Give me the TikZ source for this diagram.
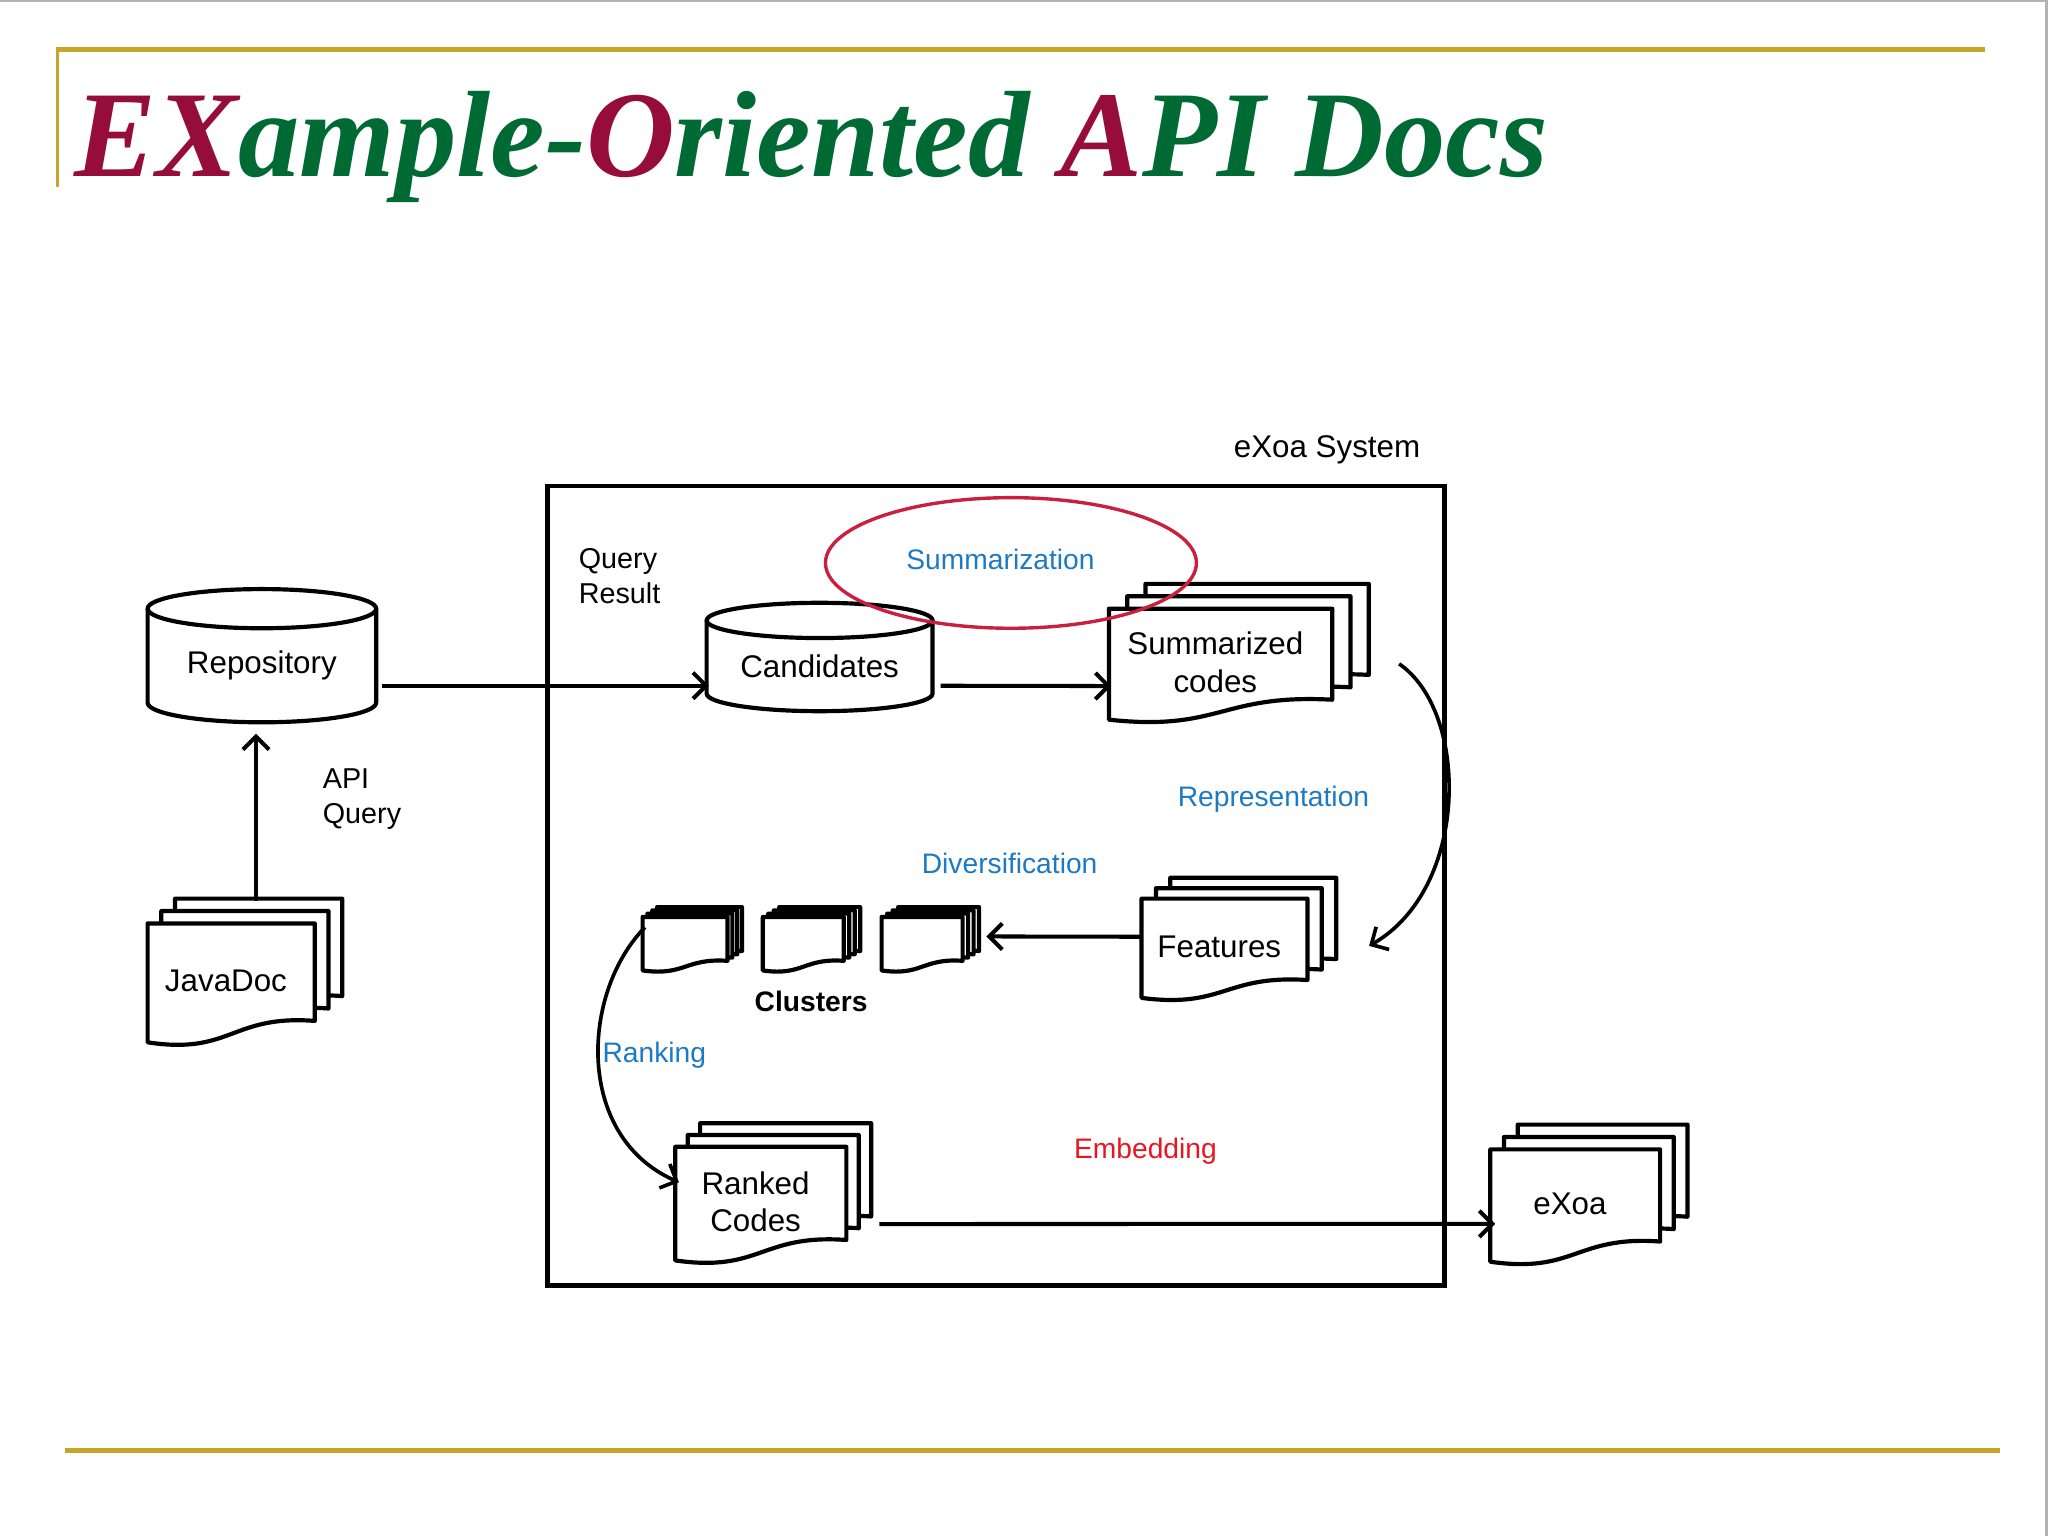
\documentclass[tikz,border=0pt]{standalone}
\usepackage{fontspec}
\setmainfont{Liberation Sans}
\newfontfamily\titlefont{Liberation Serif}
\usetikzlibrary{arrows.meta,calc,shapes.geometric}

\definecolor{titlered}{RGB}{150,12,58}
\definecolor{titlegreen}{RGB}{0,106,52}
\definecolor{rulegold}{RGB}{200,165,40}
\definecolor{stepblue}{RGB}{28,122,196}
\definecolor{embedred}{RGB}{232,22,32}
\definecolor{ringred}{RGB}{200,32,62}

\tikzset{
    title text/.style={font=\titlefont\bfseries\itshape\fontsize{94}{100}\selectfont, text=titlegreen, inner sep=0pt},
    gold rule/.style={draw=rulegold},
    shape line/.style={line width=3.2pt, line join=round},
    system box/.style={draw, line width=3.6pt, inner sep=0pt},
    box text/.style={font=\fontsize{24}{29}\selectfont, align=center, inner sep=0pt},
    note text/.style={font=\fontsize{22}{27}\selectfont, inner sep=0pt},
    step label/.style={font=\fontsize{21.6}{27}\selectfont, text=stepblue, inner sep=0pt},
    cluster text/.style={font=\bfseries\fontsize{21.6}{26}\selectfont, inner sep=0pt},
    ring/.style={ellipse, draw=ringred, line width=2.6pt, inner sep=0pt},
    flow/.style={line width=3.1pt, -{Straight Barb[length=10pt,width=20pt]}},
    bend flow/.style={line width=2.8pt, -{Straight Barb[length=10pt,width=20pt]}}
}

% name, centre x, top y, x radius, height, y radius, text
\newcommand{\dbstore}[7]{%
    \draw[shape line, fill=white] (#2-#4,#3) -- (#2-#4,#3+#5)
        arc[start angle=180, end angle=0, x radius=#4, y radius=#6] -- (#2+#4,#3);
    \draw[shape line, fill=white] (#2,#3) ellipse[x radius=#4, y radius=#6];
    \node[box text, minimum width=2*#4, minimum height=#5] (#1) at (#2,#3+#5/2+#6/2) {#7};
}

% name, left, top, width, height, dx, dy, back sheets, text
\newcommand{\docstack}[9]{%
    \foreach \k in {#8,...,0}
        \draw[shape line, fill=white, shift={(\k*#6,-\k*#7)}]
            (#2,#3) -- (#2+#4,#3) -- (#2+#4,#3+0.82*#5)
            .. controls (#2+0.5*#4,#3+0.766*#5) and (#2+0.5*#4,#3+1.108*#5) .. (#2,#3+#5) -- cycle;
    \node[box text, minimum width=#4, minimum height=0.9*#5] (#1) at (#2+#4/2-4,#3+0.45*#5+3) {#9};
}

\begin{document}
\begin{tikzpicture}[x=1pt,y=-1pt]
    \useasboundingbox (0,0) rectangle (1568,1176);
    \draw[gray!60, line width=1.5pt] (0,0.75) -- (1568,0.75);
    \draw[gray!60, line width=2pt] (1567,0) -- (1567,1176);

    \draw[gold rule, line width=4pt] (43,38) -- (1520,38);
    \draw[gold rule, line width=2pt] (44,38) -- (44,143);
    \draw[gold rule, line width=4.5pt] (50,1110.5) -- (1531,1110.5);
    \node[title text, anchor=base west] (title) at (57,135)
        {{\color{titlered}EX}ample-{\color{titlered}O}riented {\color{titlered}A}PI Docs};

    \node[system box, minimum width=687, minimum height=612] (system) at (762.5,678) {};
    \node[box text] (sysname) at (1016,344) {eXoa System};

    \dbstore{repo}{200.5}{466}{87.5}{72}{15}{Repository}
    \dbstore{cand}{627.5}{475}{86.5}{56}{13.5}{Candidates}
    \docstack{javadoc}{113}{707}{128}{91}{10.5}{9.5}{2}{JavaDoc}
    \docstack{summ}{849}{466}{171}{85}{14}{9.5}{2}{Summarized\\codes}
    \docstack{feat}{874}{688}{127}{76}{11}{8}{2}{Features}
    \docstack{clusA}{492}{702}{65}{41}{3.7}{2.5}{3}{}
    \docstack{clusB}{584}{702}{62}{41}{4.2}{2.5}{3}{}
    \docstack{clusC}{675}{702}{62}{41}{4.2}{2.5}{3}{}
    \docstack{ranked}{517}{878}{131}{87}{9.5}{9}{2}{Ranked\\Codes}
    \docstack{exoa}{1141}{880}{130}{86}{10.5}{9.5}{2}{eXoa}

    \draw[flow] ($(javadoc.north)+(23,-20)$) -- ($(repo.south)+(-4.5,16)$);
    \draw[flow] ($(repo.east)+(4,15.5)$) -- ($(cand.west)+(2,15.25)$);
    \draw[flow] ($(cand.east)+(6,15.25)$) -- ($(summ.west)+(6,18)$);
    \draw[bend flow] ($(summ.east)+(55,1)$) .. controls +(54,37) and +(77,-44) .. ($(feat.east)+(51,-1)$);
    \draw[flow] ($(feat.west)+(3,-8)$) -- ($(clusC.east)+(22,-6.5)$);
    \draw[bend flow] ($(clusA.west)+(6,-13.5)$) .. controls +(-49,50) and +(-80,-35) .. ($(ranked.west)+(7,-15)$);
    \draw[flow] ($(ranked.east)+(29,17)$) -- ($(exoa.west)+(8,15.3)$);

    \node[note text, anchor=west, align=left] (qres) at (443,441) {Query\\Result};
    \node[note text, anchor=west, align=left] (apiq) at (247,612) {API\\Query};
    \node[step label] (lsumm) at (766,428) {Summarization};
    \node[step label] (lrep) at (975,612) {Representation};
    \node[step label] (ldiv) at (773,661) {Diversification};
    \node[step label] (lrank) at (501,808) {Ranking};
    \node[step label, text=embedred] (lemb) at (877,881) {Embedding};
    \node[cluster text] (lclus) at (621,767) {Clusters};

    \node[ring, minimum width=284, minimum height=100] (summring) at (774,431) {};
\end{tikzpicture}
\end{document}
